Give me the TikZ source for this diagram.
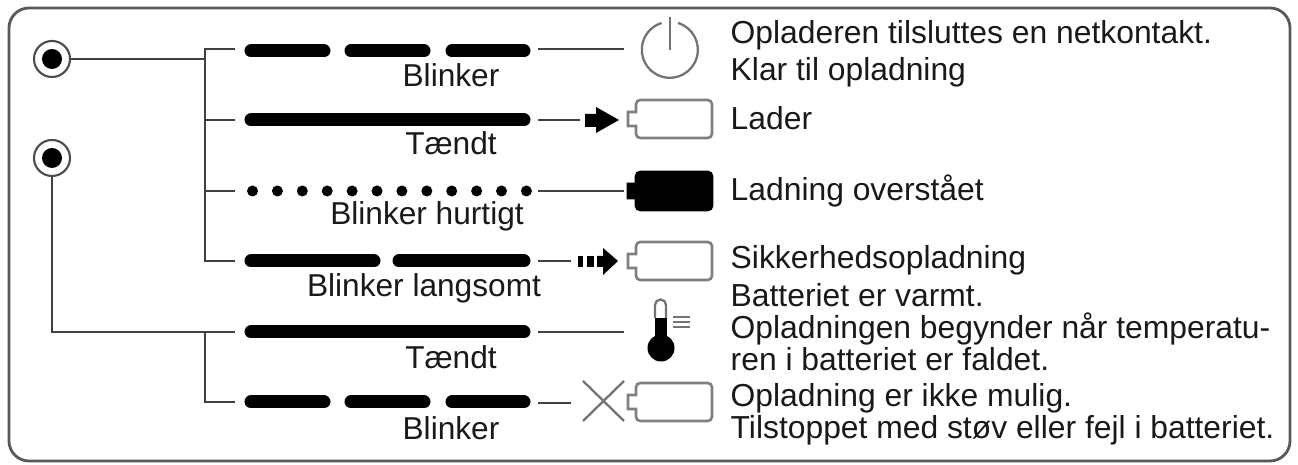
\documentclass[tikz,border=0pt]{standalone}
\usepackage{fontspec}
\setmainfont{Liberation Sans}
\tikzset{
    wire/.style={line width=0.6pt,black!75},
    barline/.style={line width=3.7pt,line cap=round,black},
    symline/.style={line width=0.65pt,black!55},
    battline/.style={line width=0.75pt,black!50},
    ledring/.style={circle,draw=black!70,line width=0.6pt,fill=white,minimum size=0.36cm,inner sep=0pt},
    leddot/.style={circle,fill=black,minimum size=0.2cm,inner sep=0pt},
    statelabel/.style={font=\fontsize{9}{9}\selectfont,anchor=base,inner sep=0pt,text=black!90},
    infolabel/.style={font=\fontsize{9.05}{9}\selectfont,anchor=base west,inner sep=0pt,text=black!90},
}
% battery symbol: y centre, outline colour, fill colour
\newcommand{\battsym}[3]{
    \draw[battline,draw=#2,fill=#3] (628,#1-7) -- (636,#1-7) [rounded corners=1.2pt] -- (636,#1-19) -- (712,#1-19) -- (712,#1+19) -- (636,#1+19) [sharp corners] -- (636,#1+7) -- (628,#1+7) -- cycle;
}
\begin{document}
\begin{tikzpicture}[x=0.01cm,y=-0.01cm]
    \useasboundingbox (0,0) rectangle (1298,465);

    % outer frame
    \draw[line width=0.8pt,black!65,rounded corners=0.2cm] (9,8) rectangle (1290,461);

    % the two lamps
    \node[ledring] (lamp1) at (52,59) {};
    \node[leddot] at (lamp1) {};
    \node[ledring] (lamp2) at (52,158) {};
    \node[leddot] at (lamp2) {};

    % branch points and row ends
    \coordinate (join1) at (205,59);
    \coordinate (join2) at (205,332);
    \coordinate (bend2) at (52,332);
    \coordinate (rowa) at (235,49);
    \coordinate (rowb) at (235,120);
    \coordinate (rowc) at (235,191);
    \coordinate (rowd) at (235,261);
    \coordinate (rowe) at (235,332);
    \coordinate (rowf) at (235,402);

    % wires from the lamps
    \draw[wire] (lamp1) -- (join1);
    \draw[wire] (lamp2) -- (bend2) -- (rowe);
    \draw[wire] (rowa) -- (rowa -| join1) -- (rowd -| join1) -- (rowd);
    \draw[wire] (rowb -| join1) -- (rowb);
    \draw[wire] (rowc -| join1) -- (rowc);
    \draw[wire] (join2) -- (rowf -| join2) -- (rowf);

    % the lamp signals
    \draw[barline] (251,51) -- (324,51);
    \draw[barline] (351,51) -- (424,51);
    \draw[barline] (452,51) -- (524,51);
    \draw[barline] (251,120) -- (524,120);
    \foreach \i in {0,...,11}
        \fill ({252.5+\i*24.9},191) circle (0.055cm);
    \draw[barline] (251,261) -- (374,261);
    \draw[barline] (399,261) -- (524,261);
    \draw[barline] (251,332) -- (524,332);
    \draw[barline] (251,402) -- (324,402);
    \draw[barline] (351,402) -- (424,402);
    \draw[barline] (452,402) -- (524,402);

    % lines after the signals
    \draw[wire] (538,49) -- (624,49);
    \draw[wire] (538,120) -- (580,120);
    \draw[wire] (538,191) -- (624,191);
    \draw[wire] (538,261) -- (571,261);
    \draw[wire] (538,332) -- (624,332);
    \draw[wire] (538,403) -- (571,403);

    % power symbol
    \draw[symline] (678,23) arc[start angle=73,end angle=-253,radius=0.28cm];
    \draw[symline] (670,17) -- (670,50);

    % solid arrow
    \fill (585,114) -- (596,114) -- (596,107) -- (619,120) -- (596,133) -- (596,127) -- (585,127) -- cycle;
    % broken arrow
    \fill (578,256) rectangle (583,267);
    \fill (587,256) rectangle (594,267);
    \fill (597,256) -- (603,256) -- (603,248) -- (618,261) -- (603,275) -- (603,267) -- (597,267) -- cycle;

    % batteries
    \battsym{119}{black!50}{white}
    \battsym{191}{black}{black}
    \battsym{261}{black!50}{white}
    \battsym{402}{black!50}{white}

    % thermometer
    \draw[symline] (655,318) -- (655,305) arc[start angle=180,end angle=0,radius=0.055cm] -- (666,318);
    \fill (654.5,318) rectangle (666.5,340);
    \fill (661,348) circle (0.135cm);
    \draw[symline] (673,317) -- (690,317);
    \draw[symline] (673,322) -- (690,322);
    \draw[symline] (673,327) -- (690,327);

    % cross
    \draw[symline] (583,381) -- (624,421);
    \draw[symline] (624,381) -- (583,421);

    % signal labels
    \node[statelabel] (staa) at (451,86.5) {Blinker};
    \node[statelabel] (stab) at (451,154.5) {Tændt};
    \node[statelabel] (stac) at (427,224.5) {Blinker hurtigt};
    \node[statelabel] (stad) at (424,296.5) {Blinker langsomt};
    \node[statelabel] (stae) at (451,368.5) {Tændt};
    \node[statelabel] (staf) at (451,439.5) {Blinker};

    % explanations
    \node[infolabel] (infoa) at (730,43.5) {Opladeren tilsluttes en netkontakt.};
    \node[infolabel] (infob) at (730,80.5) {Klar til opladning};
    \node[infolabel] (infoc) at (730,129.5) {Lader};
    \node[infolabel] (infod) at (730,200.5) {Ladning overstået};
    \node[infolabel] (infoe) at (730,268.5) {Sikkerhedsopladning};
    \node[infolabel] (infof) at (730,306.5) {Batteriet er varmt.};
    \node[infolabel] (infog) at (730,338.5) {Opladningen begynder når temperatu-};
    \node[infolabel] (infoh) at (730,370.5) {ren i batteriet er faldet.};
    \node[infolabel] (infoi) at (730,406.5) {Opladning er ikke mulig.};
    \node[infolabel] (infoj) at (730,438.5) {Tilstoppet med støv eller fejl i batteriet.};
\end{tikzpicture}
\end{document}
